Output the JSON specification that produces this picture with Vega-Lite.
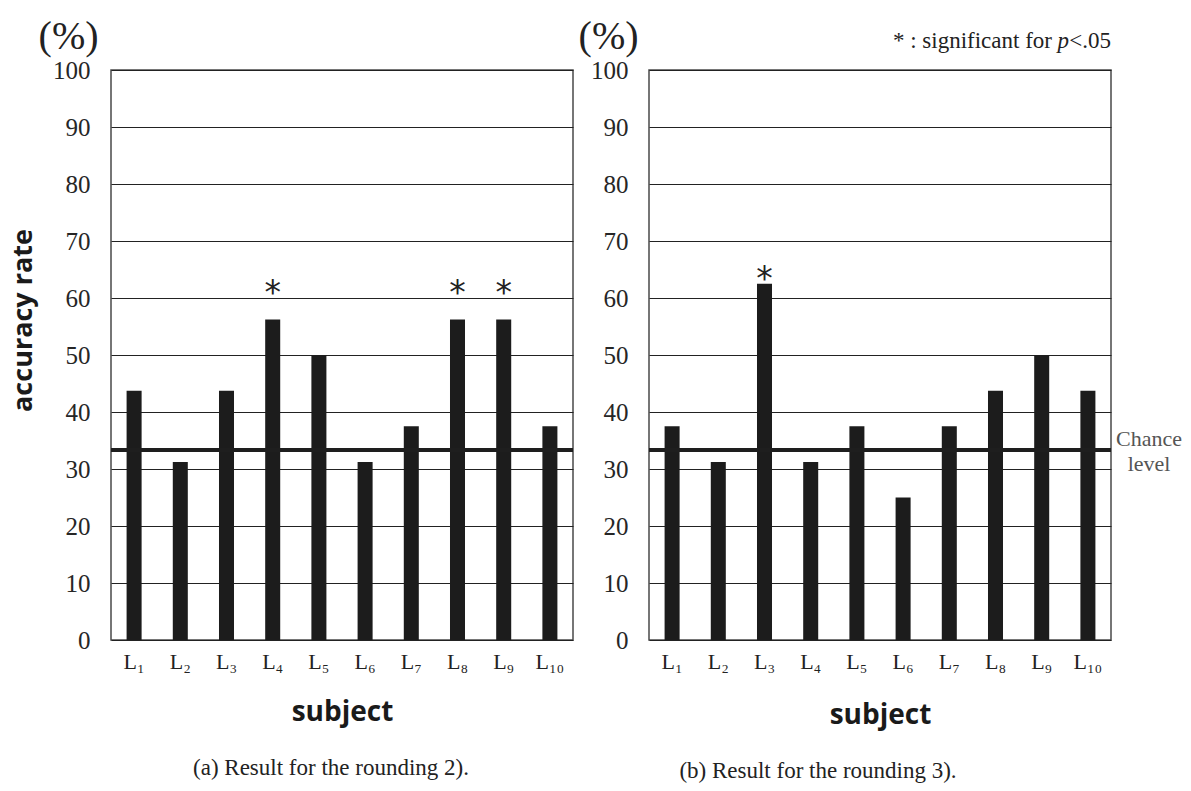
{
  "$schema": "https://vega.github.io/schema/vega-lite/v6.json",
  "background": "white",
  "padding": {"left": 8, "top": 16, "right": 5, "bottom": 5},
  "bounds": "flush",
  "spacing": 76,
  "config": {
    "view": {"stroke": "#4a4a4a", "strokeWidth": 1.5},
    "axisX": {"ticks": false, "domain": false, "labelAngle": 0, "labelFont": "Liberation Serif", "labelFontSize": 22, "labelColor": "#222", "labelPadding": 11, "titleFont": "Open Sans", "titleFontWeight": "bold", "titleFontSize": 28, "titleColor": "#1a1a1a", "titlePadding": 26},
    "axisY": {"ticks": false, "domain": false, "grid": true, "gridColor": "#222", "gridWidth": 1.2, "labelFont": "Liberation Serif", "labelFontSize": 25, "labelColor": "#262626", "labelPadding": 21},
    "title": {"font": "Liberation Serif", "fontSize": 23, "fontWeight": "normal", "color": "#222", "orient": "bottom", "anchor": "middle", "offset": 31}
  },
  "datasets": {
    "a": [
      {"subject": "L₁", "rate": 43.75, "sig": false},
      {"subject": "L₂", "rate": 31.25, "sig": false},
      {"subject": "L₃", "rate": 43.75, "sig": false},
      {"subject": "L₄", "rate": 56.25, "sig": true},
      {"subject": "L₅", "rate": 50, "sig": false},
      {"subject": "L₆", "rate": 31.25, "sig": false},
      {"subject": "L₇", "rate": 37.5, "sig": false},
      {"subject": "L₈", "rate": 56.25, "sig": true},
      {"subject": "L₉", "rate": 56.25, "sig": true},
      {"subject": "L₁₀", "rate": 37.5, "sig": false}
    ],
    "b": [
      {"subject": "L₁", "rate": 37.5, "sig": false},
      {"subject": "L₂", "rate": 31.25, "sig": false},
      {"subject": "L₃", "rate": 62.5, "sig": true},
      {"subject": "L₄", "rate": 31.25, "sig": false},
      {"subject": "L₅", "rate": 37.5, "sig": false},
      {"subject": "L₆", "rate": 25, "sig": false},
      {"subject": "L₇", "rate": 37.5, "sig": false},
      {"subject": "L₈", "rate": 43.75, "sig": false},
      {"subject": "L₉", "rate": 50, "sig": false},
      {"subject": "L₁₀", "rate": 43.75, "sig": false}
    ],
    "chance": [{"level": 33.33, "label": ["Chance", "level"], "unit": "(%)"}],
    "note": [{"t1": "* : significant for", "t2": "p", "t3": "<.05"}]
  },
  "hconcat": [
    {
      "width": 462,
      "height": 570,
      "title": {"text": "(a)  Result for the rounding 2).", "dx": -11},
      "layer": [
        {
          "data": {"name": "a"},
          "mark": {"type": "bar", "color": "#1c1c1c"},
          "encoding": {
            "x": {"field": "subject", "type": "nominal", "sort": null, "scale": {"paddingInner": 0.675, "paddingOuter": 0.3375}, "axis": {"title": "subject"}},
            "y": {"field": "rate", "type": "quantitative", "scale": {"domain": [0, 100]}, "axis": {"values": [0, 10, 20, 30, 40, 50, 60, 70, 80, 90, 100], "title": "accuracy rate", "titleFont": "Open Sans", "titleFontWeight": "bold", "titleFontSize": 27, "titleColor": "#1a1a1a", "titleAngle": 270, "titleAlign": "center", "titleBaseline": "middle", "titleX": -88, "titleY": 250}}
          }
        },
        {
          "data": {"name": "a"},
          "transform": [{"filter": "datum.sig"}],
          "mark": {"type": "text", "text": "*", "font": "DejaVu Sans", "fontSize": 33, "color": "#222", "baseline": "alphabetic", "dy": -15},
          "encoding": {
            "x": {"field": "subject", "type": "nominal", "sort": null},
            "y": {"field": "rate", "type": "quantitative"}
          }
        },
        {
          "data": {"name": "chance"},
          "mark": {"type": "rule", "strokeWidth": 4, "color": "#1e1e1e"},
          "encoding": {"y": {"field": "level", "type": "quantitative"}}
        },
        {
          "data": {"name": "chance"},
          "mark": {"type": "text", "font": "Liberation Serif", "fontSize": 40, "color": "#222", "baseline": "alphabetic", "align": "center", "dx": -58, "dy": -21},
          "encoding": {
            "x": {"datum": "L₁", "type": "nominal", "bandPosition": 0},
            "y": {"datum": 100, "type": "quantitative"},
            "text": {"field": "unit"}
          }
        }
      ]
    },
    {
      "width": 462,
      "height": 570,
      "title": {"text": "(b) Result for the rounding 3).", "dx": -62},
      "layer": [
        {
          "data": {"name": "b"},
          "mark": {"type": "bar", "color": "#1c1c1c"},
          "encoding": {
            "x": {"field": "subject", "type": "nominal", "sort": null, "scale": {"paddingInner": 0.675, "paddingOuter": 0.3375}, "axis": {"title": "subject", "titlePadding": 29}},
            "y": {"field": "rate", "type": "quantitative", "scale": {"domain": [0, 100]}, "axis": {"values": [0, 10, 20, 30, 40, 50, 60, 70, 80, 90, 100], "title": null}}
          }
        },
        {
          "data": {"name": "b"},
          "transform": [{"filter": "datum.sig"}],
          "mark": {"type": "text", "text": "*", "font": "DejaVu Sans", "fontSize": 33, "color": "#222", "baseline": "alphabetic", "dy": 6},
          "encoding": {
            "x": {"field": "subject", "type": "nominal", "sort": null},
            "y": {"field": "rate", "type": "quantitative"}
          }
        },
        {
          "data": {"name": "chance"},
          "mark": {"type": "rule", "strokeWidth": 4, "color": "#1e1e1e"},
          "encoding": {"y": {"field": "level", "type": "quantitative"}}
        },
        {
          "data": {"name": "chance"},
          "mark": {"type": "text", "font": "Liberation Serif", "fontSize": 22, "color": "#555", "baseline": "alphabetic", "align": "center", "dx": 38, "dy": -4, "lineHeight": 25},
          "encoding": {
            "x": {"value": "width"},
            "y": {"field": "level", "type": "quantitative"},
            "text": {"field": "label"}
          }
        },
        {
          "data": {"name": "chance"},
          "mark": {"type": "text", "font": "Liberation Serif", "fontSize": 40, "color": "#222", "baseline": "alphabetic", "align": "center", "dx": -56, "dy": -21},
          "encoding": {
            "x": {"datum": "L₁", "type": "nominal", "bandPosition": 0},
            "y": {"datum": 100, "type": "quantitative"},
            "text": {"field": "unit"}
          }
        },
        {
          "data": {"name": "note"},
          "mark": {"type": "text", "font": "Liberation Serif", "fontSize": 23, "color": "#222", "baseline": "alphabetic", "align": "right", "dy": -22},
          "encoding": {
            "x": {"value": "width"},
            "y": {"datum": 100, "type": "quantitative"},
            "text": {"field": "t3"}
          }
        },
        {
          "data": {"name": "note"},
          "mark": {"type": "text", "font": "Liberation Serif", "fontSize": 23, "fontStyle": "italic", "color": "#222", "baseline": "alphabetic", "align": "right", "dx": -42, "dy": -22},
          "encoding": {
            "x": {"value": "width"},
            "y": {"datum": 100, "type": "quantitative"},
            "text": {"field": "t2"}
          }
        },
        {
          "data": {"name": "note"},
          "mark": {"type": "text", "font": "Liberation Serif", "fontSize": 23, "color": "#222", "baseline": "alphabetic", "align": "right", "dx": -59, "dy": -22},
          "encoding": {
            "x": {"value": "width"},
            "y": {"datum": 100, "type": "quantitative"},
            "text": {"field": "t1"}
          }
        }
      ]
    }
  ]
}
